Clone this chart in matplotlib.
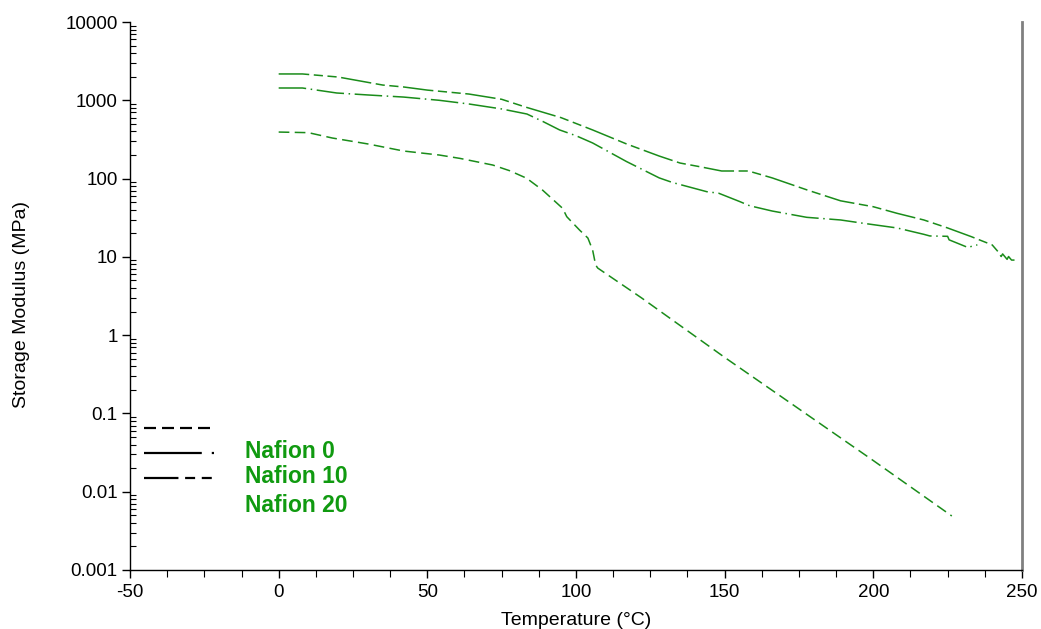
import matplotlib
matplotlib.use("Agg")
import matplotlib.pyplot as plt
from matplotlib.ticker import FixedLocator, FuncFormatter, LogLocator, MultipleLocator, NullFormatter
from matplotlib.lines import Line2D

# ---- data ----
series_names = ["Nafion 0", "Nafion 10", "Nafion 20"]

t_n0 = [0, 10, 18, 30, 42, 54, 61, 72, 77.7, 83.4, 88.8, 95.5, 96.9, 101.2, 104, 105.6, 106.6, 107.3,
        122, 150, 167.5, 200, 226.4]
e_n0 = [393, 386, 330, 277, 225, 200, 181, 149, 126, 101, 71, 41.7, 32.6, 22, 17.4, 12.2, 7.9, 7.2,
        3.0, 0.52, 0.18, 0.025, 0.0049]

t_n10 = [0, 8, 19.5, 30, 42, 54, 64, 75, 83.5, 89, 94.5, 100, 105.6, 117, 128, 132.5, 144, 148,
         155, 158.4, 166, 177.6, 189, 196.5, 208, 217, 219, 225, 225.5, 232, 233.7, 235]
e_n10 = [1436, 1436, 1240, 1170, 1100, 1000, 897, 775, 668, 533, 418, 353, 285, 165, 102, 89, 68, 65,
         51, 45, 38.5, 32, 29.6, 26.9, 23.4, 19.4, 18.5, 18.3, 16.5, 13.1, 14.0, 14.2]

t_n20 = [0, 8, 20, 35, 42, 50, 64, 75, 83, 95, 105.6, 117, 128, 135, 142, 149, 158, 166, 178, 189,
         200, 208, 217, 225, 233, 240, 242, 243, 243.5, 245, 245.5, 246.5, 247.5]
e_n20 = [2170, 2170, 1983, 1566, 1480, 1350, 1202, 1030, 820, 600, 418, 277, 194, 158, 141, 125, 125,
         102, 71, 52, 43.7, 36, 29.6, 23.4, 18.1, 14.2, 11.6, 10.1, 10.9, 9.3, 10.1, 9.1, 9.1]

x_ticks = [-50, 0, 50, 100, 150, 200, 250]
y_ticks = [0.001, 0.01, 0.1, 1, 10, 100, 1000, 10000]
y_tick_labels = ["0.001", "0.01", "0.1", "1", "10", "100", "1000", "10000"]

# ---- styling ----
plt.rcParams['font.family'] = ['Liberation Sans', 'DejaVu Sans']
plt.rcParams['axes.unicode_minus'] = False
green = '#1a8c1a'
dash_styles = [(0, (7, 3.5)), (0, (18, 3, 1, 3)), (0, (20, 3, 6, 3, 6, 3))]

fig = plt.figure(figsize=(10.41, 6.29), dpi=100)
ax = fig.add_axes([0.1249, 0.0938, 0.8568, 0.8712])

for t, e, ls in zip([t_n0, t_n10, t_n20], [e_n0, e_n10, e_n20], dash_styles):
    ax.plot(t, e, color=green, linewidth=1.1, linestyle=ls)

ax.set_yscale('log')
ax.set_xlim(-50, 250)
ax.set_ylim(0.001, 10000)

ax.xaxis.set_major_locator(FixedLocator(x_ticks))
ax.xaxis.set_minor_locator(MultipleLocator(12.5))
ax.yaxis.set_major_locator(FixedLocator(y_ticks))
ax.yaxis.set_major_formatter(FuncFormatter(lambda v, p: y_tick_labels[y_ticks.index(min(y_ticks, key=lambda q: abs(q - v)))]))
ax.yaxis.set_minor_locator(LogLocator(base=10, subs=range(2, 10), numticks=100))
ax.yaxis.set_minor_formatter(NullFormatter())

ax.tick_params(axis='both', which='major', labelsize=13.5, direction='out', length=6, width=1, color='black')
ax.tick_params(axis='y', which='minor', direction='in', length=4, width=0.8)
ax.tick_params(axis='x', which='minor', direction='out', length=5, width=0.8)
ax.tick_params(axis='y', which='major', pad=3)
ax.tick_params(axis='x', which='major', pad=4)

ax.spines['top'].set_visible(False)
ax.spines['right'].set_color('#808080')
ax.spines['right'].set_linewidth(2)
ax.spines['left'].set_linewidth(1)
ax.spines['bottom'].set_linewidth(1)

ax.set_xlabel('Temperature (°C)', fontsize=14, labelpad=8)
ax.set_ylabel('Storage Modulus (MPa)', fontsize=14)
ax.yaxis.set_label_coords(-0.112, 0.485)

# legend: black line samples, separate green labels
handles = [Line2D([], [], color='black', linewidth=1.6, linestyle=ls) for ls in
           [(0, (5.4, 2.7)), (0, (26, 4.5, 1, 3)), (0, (15.5, 3, 4.5, 3, 4.5, 3))]]
leg = ax.legend(handles, ['', '', ''], loc='upper left', bbox_to_anchor=(0.002, 0.294),
                frameon=False, handlelength=3.9, labelspacing=0.45, fontsize=13,
                handletextpad=0, borderpad=0.2)

label_y = [0.217, 0.1715, 0.1186]
for name, yy in zip(series_names, label_y):
    ax.text(0.129, yy, name, transform=ax.transAxes, color='#109a10', fontsize=16.5,
            fontweight='bold', va='center', ha='left')

fig.savefig('out.png', dpi=100)
